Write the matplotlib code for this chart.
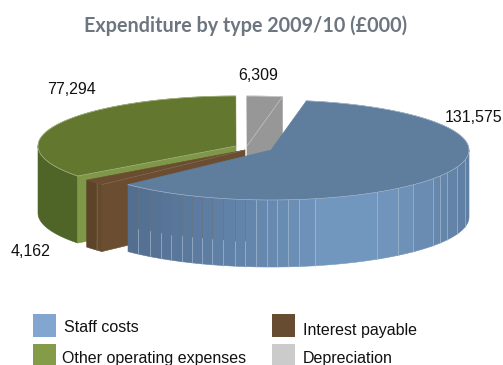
import numpy as np
import matplotlib
matplotlib.use('Agg')
import matplotlib.pyplot as plt
from matplotlib.patches import Polygon, Rectangle

# Expenditure figures, in the clockwise order of the pie
categories = ['Staff costs', 'Interest payable', 'Other operating expenses', 'Depreciation']
values = [131575, 4162, 77294, 6309]
value_labels = ['131,575', '4,162', '77,294', '6,309']

# Pie geometry in pixels
RX, RY = 198, 50
DEPTH = 67
START = 79.7
centers = [(271, 150), (245, 150), (236, 146), (247, 146)]

top_colors = ['#5f7d9d', '#6a4d30', '#63772f', '#979797']
side_colors = ['#6f93ba', '#5d4328', '#4f6528', '#8a8a8a']
face_colors = ['#6f93ba', '#6b4e31', '#7e9847', '#979797']
key_colors = ['#82a6d0', '#674c32', '#849c48', '#cbcbcb']

# Where the vertical seams sit on the blue rim
rim_seams = [128, 138, 150, 161, 171, 182, 192, 202, 212, 223, 235, 245, 256, 267,
             277, 288, 299, 315, 377, 398, 413, 433, 440, 447, 457, 465, 469]

fig = plt.figure(figsize=(5.03, 3.65), dpi=100)
ax = fig.add_axes([0, 0, 1, 1])
ax.set_xlim(0, 503)
ax.set_ylim(365, 0)
ax.axis('off')


def ellipse_pt(c, t):
    t = np.radians(t)
    return c[0] + RX * np.cos(t), c[1] - RY * np.sin(t)


def arc(c, t1, t2, n=60):
    x, y = ellipse_pt(c, np.linspace(t1, t2, n))
    return np.column_stack([x, y])


def poly(pts, color, z, edge=None, lw=0.4):
    ax.add_patch(Polygon(pts, closed=True, facecolor=color,
                         edgecolor=edge or color, linewidth=lw, zorder=z))


def drop(pts):
    return pts + np.array([0, DEPTH])


def band(c, t1, t2, color, z):
    a = arc(c, t1, t2)
    poly(np.vstack([a, drop(a)[::-1]]), color, z)


def cut_face(c, t, color, z):
    p = np.array([c, ellipse_pt(c, t)], dtype=float)
    poly(np.vstack([p, drop(p)[::-1]]), color, z)


def blue_shade(x):
    # rim is darkest at the left, brightest just right of the middle
    xs = [128, 220, 340, 400, 469]
    rgb = [[0x52, 0x6d, 0x8e], [0x60, 0x80, 0xa6], [0x72, 0x97, 0xbf],
           [0x6f, 0x93, 0xba], [0x5f, 0x7e, 0xa2]]
    return [np.interp(x, xs, [c[i] for c in rgb]) / 255 for i in range(3)]


# slice angles come straight from the values, running clockwise
sweeps = np.array(values) / sum(values) * 360
ends = START - np.cumsum(sweeps)
starts = ends + sweeps
staff, interest, other, depn = range(4)

# Depreciation sits at the back
c = centers[depn]
cut_face(c, ends[depn], face_colors[depn], 1)
t = arc(c, starts[depn], ends[depn], 10)
poly(np.vstack([[c], t]), top_colors[depn], 2)
ax.plot(*zip(c, ellipse_pt(c, ends[depn])), color='#c4c4c4', lw=0.5, zorder=3)
ax.plot(t[:, 0], t[:, 1], color='#d0d0d0', lw=0.5, zorder=3)

# Other operating expenses
c = centers[other]
band(c, -180, starts[other], side_colors[other], 4)
cut_face(c, starts[other], face_colors[other], 5)
t = arc(c, starts[other], ends[other])
poly(np.vstack([[c], t]), top_colors[other], 6)
ax.plot(t[:, 0], t[:, 1], color='#a9b88a', lw=0.5, zorder=7)
ax.plot(*zip(c, ellipse_pt(c, starts[other])), color='#a9b88a', lw=0.5, zorder=7)

# Interest payable
c = centers[interest]
mid = ends[interest] + sweeps[interest] * 0.66
cut_face(c, starts[interest], face_colors[interest], 8)
band(c, ends[interest], mid, side_colors[interest], 9)
band(c, mid, starts[interest], '#654a2e', 9)
t = arc(c, starts[interest], ends[interest], 10)
poly(np.vstack([[c], t]), top_colors[interest], 10)
ax.plot(*zip(c, ellipse_pt(c, starts[interest])), color='#8a7257', lw=0.4, zorder=11)
mx, my = ellipse_pt(c, mid)
ax.plot([mx, mx], [my, my + DEPTH], color='#7d6548', lw=0.5, zorder=11)

# Staff costs, rim drawn seam by seam
c = centers[staff]
seam_t = -np.degrees(np.arccos((np.array(rim_seams) - c[0]) / RX))
for x0, x1, a0, a1 in zip(rim_seams[:-1], rim_seams[1:], seam_t[:-1], seam_t[1:]):
    band(c, a0, a1, blue_shade((x0 + x1) / 2), 12)
for x, a in zip(rim_seams[1:-1], seam_t[1:-1]):
    px, py = ellipse_pt(c, a)
    split = py + DEPTH * 0.62 if x < 246 else py
    if x < 246:
        ax.plot([px, px], [py, split], color='#6a7078', lw=0.5, alpha=0.8, zorder=13)
    ax.plot([px, px], [split, py + DEPTH], color='#b4c6da', lw=0.5, alpha=0.8, zorder=13)
t = arc(c, ends[staff], starts[staff], 120)
poly(np.vstack([[c], t]), top_colors[staff], 14)
ax.plot(t[:, 0], t[:, 1], color='#b3c4d6', lw=0.4, zorder=15)

# Value labels
label_font = ['Liberation Sans', 'DejaVu Sans']
label_pos = [(445, 117), (11, 251), (47, 89), (238, 75)]
for text, (x, y) in zip(value_labels, label_pos):
    ax.text(x, y, text, fontsize=11.5, family=label_font, color='#111111', ha='left', va='center', zorder=20)

ax.text(246, 26, 'Expenditure by type 2009/10 (£000)', fontsize=14.2, family=['Lato', 'DejaVu Sans'],
        fontweight='bold', color='#6c7580', ha='center', va='center')

# Legend, laid out by hand because the last row runs off the bottom
key_pos = [(33, 314), (272, 314), (33, 344), (272, 344)]
text_pos = [(64, 327), (303, 330), (62, 359), (303, 358)]
for name, color, (kx, ky), (tx, ty) in zip(categories, key_colors, key_pos, text_pos):
    ax.add_patch(Rectangle((kx, ky), 23, 23, facecolor=color, edgecolor='none'))
    ax.text(tx, ty, name, fontsize=11.5, family=label_font, color='#111111', ha='left', va='center')

fig.savefig('out.png', dpi=100)
